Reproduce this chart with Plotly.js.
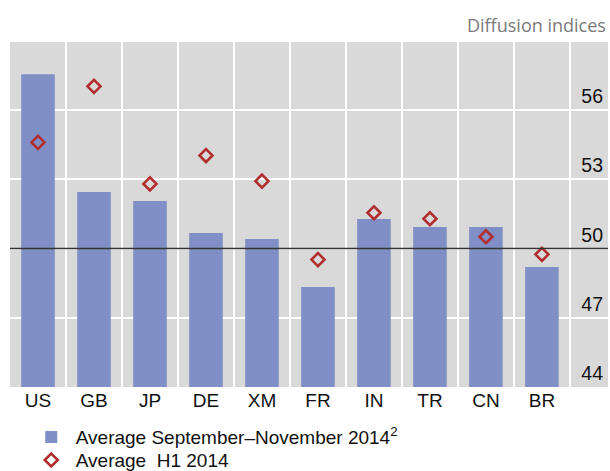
<!DOCTYPE html>
<html>
<head>
<meta charset="utf-8">
<script src="https://cdn.plot.ly/plotly-3.0.1.min.js"></script>
<style>html,body{margin:0;padding:0;background:#fff;}#chart{width:610px;height:471px;}</style>
</head>
<body>
<div id="chart"></div>
<script>
const categories = ["US", "GB", "JP", "DE", "XM", "FR", "IN", "TR", "CN", "BR"];
const avgSepNov2014 = [57.55, 52.45, 52.06, 50.67, 50.41, 48.33, 51.28, 50.93, 50.93, 49.2];
const avgH12014 = [54.6, 57.03, 52.8, 54.03, 52.92, 49.52, 51.55, 51.29, 50.51, 49.75];
const yTickVals = [44, 47, 50, 53, 56];
const yTickText = ["44", "47", "50", "53", "56"];
const seriesNames = ["Average September\u2013November 2014<sup>2</sup>", "Average\u00a0 H1 2014"];
const unitLabel = "Diffusion indices";
const refLine = 50;

const traces = [
  {
    type: "bar",
    x: categories,
    y: avgSepNov2014,
    name: seriesNames[0],
    marker: {color: "#8090c6"},
    width: 0.6,
    legend: "legend",
    hoverinfo: "x+y"
  },
  {
    type: "scatter",
    mode: "markers",
    x: categories,
    y: avgH12014,
    name: seriesNames[1],
    marker: {symbol: "diamond-open", size: 10, color: "#b22e2e", line: {width: 2.6, color: "#b22e2e"}},
    legend: "legend2",
    hoverinfo: "x+y"
  }
];

const legendBase = {
  x: 0.028, xanchor: "left",
  yanchor: "middle",
  orientation: "v",
  itemwidth: 39,
  font: {family: "Liberation Sans, Arial, sans-serif", size: 19, color: "#111"},
  bgcolor: "rgba(0,0,0,0)",
  borderwidth: 0
};

const layout = {
  width: 610,
  height: 471,
  margin: {l: 10, r: 2, t: 42, b: 84, autoexpand: false},
  paper_bgcolor: "#ffffff",
  plot_bgcolor: "#d9d9d9",
  font: {family: "Liberation Sans, Arial, sans-serif", size: 19, color: "#111"},
  showlegend: true,
  legend: Object.assign({}, legendBase, {y: -0.145}),
  legend2: Object.assign({}, legendBase, {y: -0.212}),
  xaxis: {
    type: "category",
    range: [-0.5, 10.18],
    tickson: "boundaries",
    showgrid: true,
    gridcolor: "#ffffff",
    gridwidth: 2,
    ticks: "",
    showline: false,
    zeroline: false,
    tickfont: {size: 19, color: "#111"}
  },
  yaxis: {
    range: [44, 58.95],
    side: "right",
    tickvals: yTickVals,
    ticktext: yTickText,
    ticklabelposition: "inside top",
    ticklabelstandoff: 2,
    showgrid: true,
    gridcolor: "#ffffff",
    gridwidth: 2,
    zeroline: false,
    showline: false,
    ticks: "",
    tickfont: {size: 19.5, color: "#111"}
  },
  shapes: [
    {type: "line", xref: "paper", x0: 0, x1: 1, yref: "y", y0: refLine, y1: refLine, line: {color: "#333333", width: 1.5}}
  ],
  annotations: [
    {text: unitLabel, xref: "paper", yref: "paper", x: 1, y: 1.05, xanchor: "right", yanchor: "middle", showarrow: false,
     font: {family: "Open Sans, Noto Sans, sans-serif", size: 18, color: "#7a7a7a"}}
  ]
};

Plotly.newPlot("chart", traces, layout, {displayModeBar: false, responsive: false});
</script>
</body>
</html>
